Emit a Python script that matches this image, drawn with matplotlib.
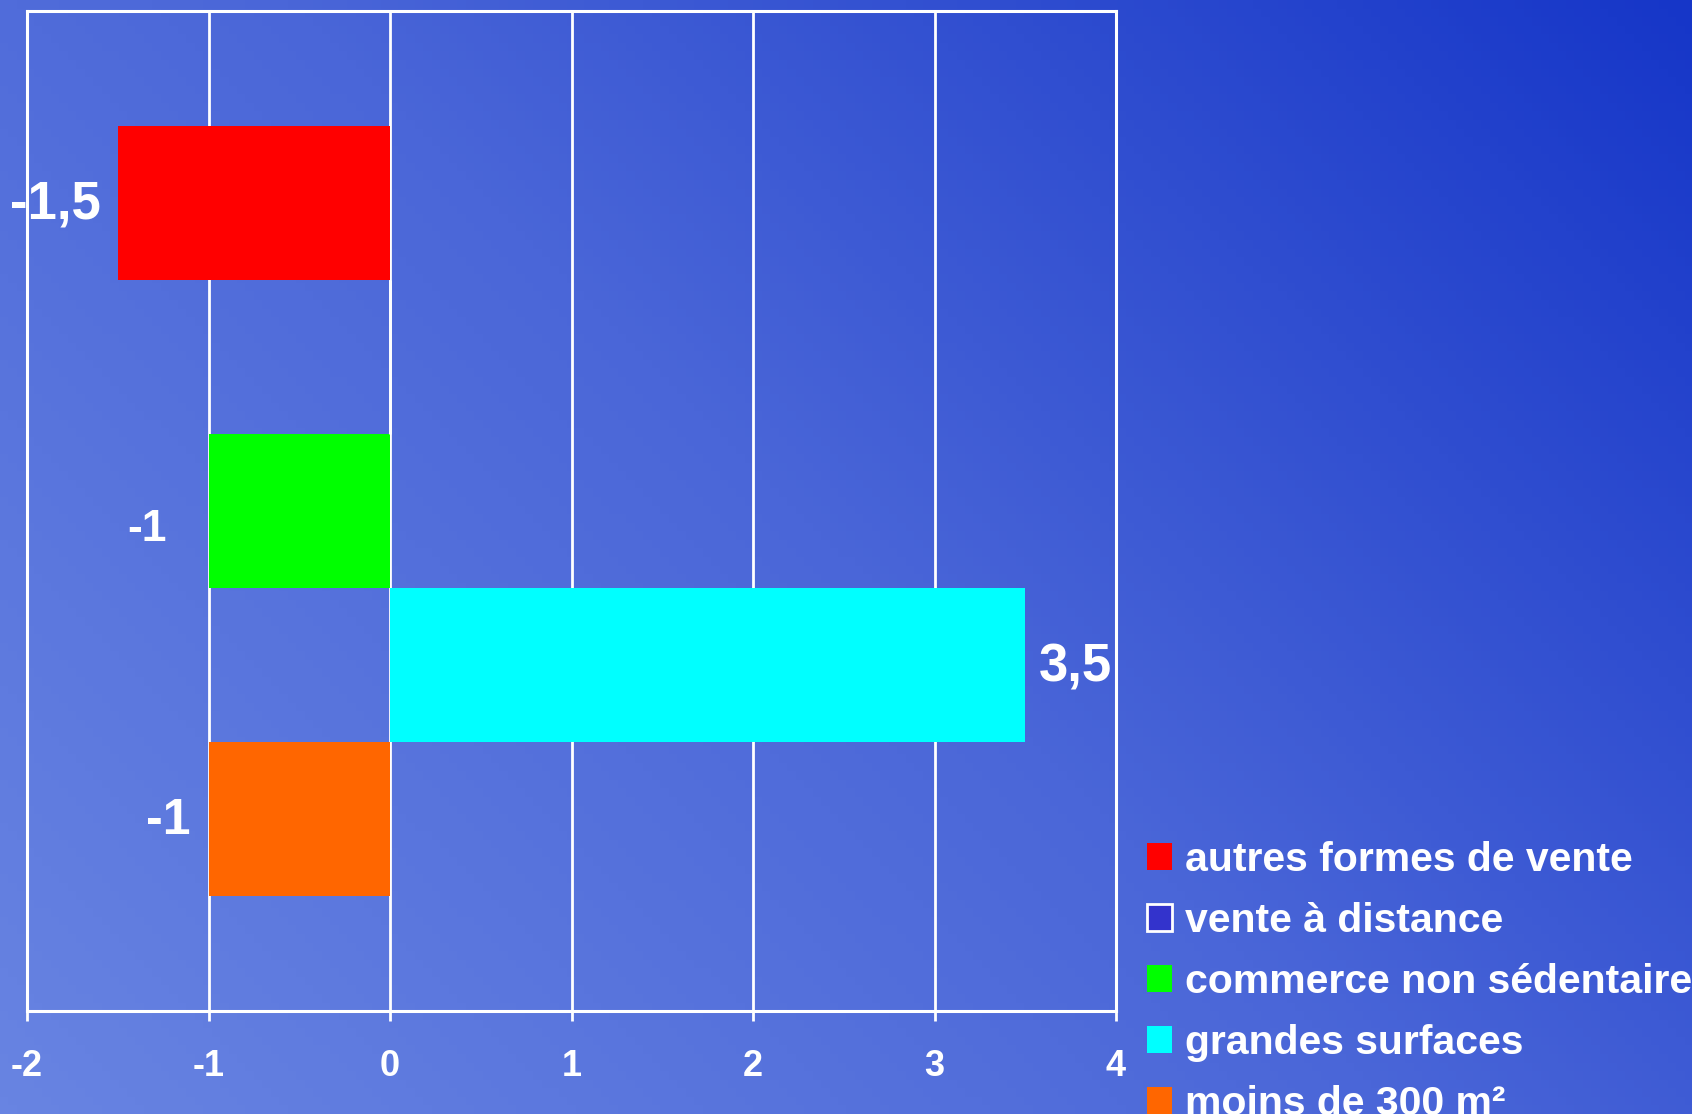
import numpy as np
import matplotlib
matplotlib.use("Agg")
import matplotlib.pyplot as plt
from matplotlib.colors import LinearSegmentedColormap

plt.rcParams['font.family'] = ['Liberation Sans', 'DejaVu Sans']
plt.rcParams['font.weight'] = 'bold'

# ---- data (bottom to top) ----
series = ["moins de 300 m²", "grandes surfaces", "commerce non sédentaire",
          "vente à distance", "autres formes de vente"]
values = [-1, 3.5, -1, 0, -1.5]
colors = ["#FF6600", "#00FFFF", "#00FF00", "#3333CC", "#FF0000"]
value_labels = ["-1", "3,5", "-1", "", "-1,5"]
xticks = [-2, -1, 0, 1, 2, 3, 4]

W, H = 1692, 1114
fig = plt.figure(figsize=(W / 100, H / 100), dpi=100)

# background gradient (light bottom-left -> dark top-right)
bg = fig.add_axes([0, 0, 1, 1], zorder=-10)
nx, ny = 200, 130
xx, yy = np.meshgrid(np.linspace(0, 1, nx), np.linspace(0, 1, ny))
t = (xx * W + yy * H) / (W + H)
cmap = LinearSegmentedColormap.from_list("bg", ["#6884E2", "#4A66D8", "#1636C8"])
bg.imshow(t, cmap=cmap, origin="lower", extent=[0, 1, 0, 1], aspect="auto")
bg.axis("off")

ax = fig.add_axes([27 / W, 1 - 1011 / H, (1116 - 27) / W, (1011 - 11) / H])
ax.set_facecolor("none")

h = 1 / 6.5
ypos = [1.25 * h + i * h for i in range(len(values))]
bars = []
for yv, v, c, lab in zip(ypos, values, colors, series):
    b = ax.barh(yv, v, height=h, color=c, label=lab, zorder=3,
                edgecolor="white" if lab == "vente à distance" else c,
                linewidth=2 if lab == "vente à distance" else 0)
    bars.append(b)

# value labels
offsets = [(-13, -2, 36), (10, -2, 38), (-30, -13, 32), (0, 0, 38), (-12, -1, 38)]
for yv, v, txt, (dx, dy, fs) in zip(ypos, values, value_labels, offsets):
    if not txt:
        continue
    ax.annotate(txt, xy=(v, yv), xytext=(dx, dy), textcoords="offset points",
                ha="left" if v > 0 else "right", va="center",
                color="white", fontsize=fs, fontweight="bold", zorder=5)

ax.set_xlim(-2, 4)
ax.set_ylim(0, 1)
ax.set_xticks(xticks)
ax.set_xticklabels([str(x) for x in xticks])
ax.set_yticks([])
ax.grid(axis="x", color="white", linewidth=2, zorder=1)
for s in ax.spines.values():
    s.set_color("white")
    s.set_linewidth(2.2)
ax.tick_params(axis="x", colors="white", length=7, width=2, pad=20,
               labelsize=26, direction="out")
for lbl in ax.get_xticklabels():
    lbl.set_fontweight("bold")

# legend (top to bottom as in reference)
order = [4, 3, 2, 1, 0]
leg = fig.legend([bars[i] for i in order], [series[i] for i in order],
                 loc="upper left", bbox_to_anchor=(1147 / W, 1 - 841 / H),
                 frameon=False, fontsize=29.5, handlelength=0.62, handleheight=0.62,
                 handletextpad=0.3, labelspacing=0.56, borderpad=0, borderaxespad=0)
for txt in leg.get_texts():
    txt.set_color("white")
    txt.set_fontweight("bold")

fig.savefig("out.png", dpi=100)
